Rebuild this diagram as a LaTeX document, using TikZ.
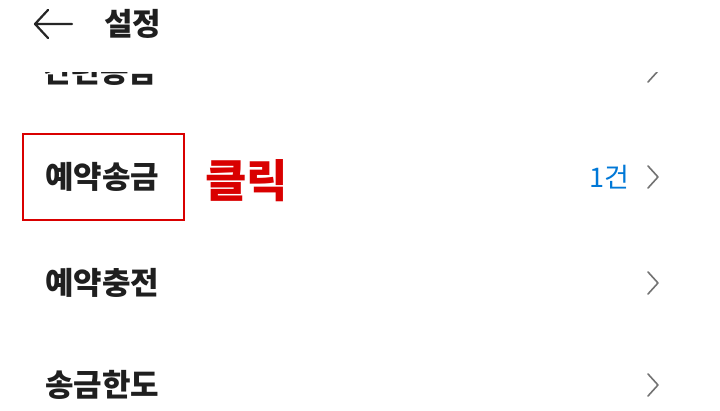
\documentclass[tikz,border=0pt]{standalone}
\usepackage{fontspec}
\newfontfamily\kr{Noto Sans CJK KR}
\newfontfamily\krb{Noto Sans CJK KR Black}
\begin{document}
\begin{tikzpicture}[x=1pt,y=-1pt,
  item/.style={anchor=west,inner sep=0pt,font=\krb\fontsize{31}{32}\selectfont,text=black!88},
  chev/.style={draw=black!55,line width=1.6pt,line cap=round,line join=round}]
\useasboundingbox (0,0) rectangle (720,411);
\fill[white] (0,0) rectangle (720,411);
% back arrow
\coordinate (at) at (35,24);
\draw[line width=2.2pt,line cap=round,line join=round,black!85] (48,10) -- (at) -- (48,38) (at) -- (72,24);
\node[item] (title) at (104,24) {설정};
% partially hidden row
\begin{scope}
\clip (0,73) rectangle (720,90);
\node[item] (hidden) at (43,71) {간편송금};
\draw[chev] (648,60) -- (658,71) -- (648,82);
\end{scope}
% row 1
\node[draw=red!85!black,line width=2.6pt,minimum width=161pt,minimum height=86pt] (box) at (103.5,177) {};
\node[item] (r1) at (45,177) {예약송금};
\node[anchor=west,inner sep=0pt,font=\krb\fontsize{45}{46}\selectfont,text=red!85!black] (click) at (205,181) {클릭};
\node[anchor=east,inner sep=0pt,font=\kr\fontsize{27}{28}\selectfont,text={rgb,255:red,0;green,120;blue,215}] (cnt) at (630,177) {1건};
\draw[chev] (648,166) -- (658,177) -- (648,188);
% row 2
\node[item] (r2) at (45,283) {예약충전};
\draw[chev] (648,272) -- (658,283) -- (648,294);
% row 3
\node[item] (r3) at (45,385) {송금한도};
\draw[chev] (648,374) -- (658,385) -- (648,396);
\end{tikzpicture}
\end{document}
